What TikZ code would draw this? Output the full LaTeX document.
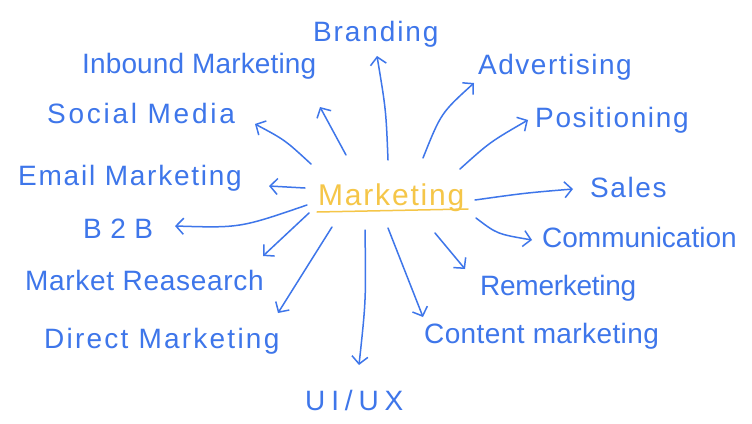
\documentclass[tikz,border=0pt]{standalone}
\usepackage{fontspec}
\setmainfont{Liberation Sans}
\usetikzlibrary{arrows.meta}
\definecolor{inkblue}{RGB}{62,118,234}
\definecolor{inkyellow}{RGB}{245,198,72}
\newcommand\lsp[2]{{\addfontfeature{LetterSpace=#1}#2}}
\begin{document}
\begin{tikzpicture}[x=1pt,y=-1pt,
  lbl/.style={text=inkblue, inner sep=0pt, anchor=base west, font=\fontsize{28}{30}\selectfont},
  arr/.style={draw=inkblue, line width=1.5pt, line cap=round, line join=round,
    -{Straight Barb[length=7.5pt,width=16pt]}}]
\useasboundingbox (0,0) rectangle (752,423);
\fill[white] (0,0) rectangle (752,423);

% labels
\node[lbl] (br) at (313,41)  {\lsp{6.7}{Branding}};
\node[lbl] (ib) at (82,73)   {\lsp{0.5}{Inbound Marketing}};
\node[lbl] (ad) at (478,74)  {\lsp{5.4}{Advertising}};
\node[lbl] (sm) at (47,123)  {\lsp{9.8}{Social Media}};
\node[lbl] (po) at (535,127) {\lsp{5.9}{Positioning}};
\node[lbl] (em) at (18,185)  {\lsp{6.3}{Email Marketing}};
\node[lbl] (sa) at (590,197) {\lsp{5.7}{Sales}};
\node[lbl] (bb) at (83,238)  {\lsp{2.5}{B 2 B}};
\node[lbl] (co) at (542,247) {\lsp{0}{Communication}};
\node[lbl] (mr) at (25,290)  {\lsp{2.5}{Market Reasearch}};
\node[lbl] (re) at (480,295) {\lsp{-1}{Remerketing}};
\node[lbl] (dm) at (44,348)  {\lsp{8}{Direct Marketing}};
\node[lbl] (cm) at (424,343) {\lsp{1.4}{Content marketing}};
\node[lbl] (ux) at (305,410) {\lsp{21}{UI/UX}};
\node[lbl, text=inkyellow, font=\fontsize{30}{32}\selectfont] (mk) at (318,205) {\lsp{6}{Marketing}};

% underline of the centre word
\coordinate (ulA) at (317,212);
\coordinate (ulB) at (468,209);
\draw[inkyellow, line width=1.5pt, line cap=round] (ulA) -- (ulB);

% arrow ends
\coordinate (s1) at (388,160);  \coordinate (t1) at (377,56);
\coordinate (s2) at (346,155);  \coordinate (t2) at (320,107);
\coordinate (s3) at (311,164);  \coordinate (t3) at (255,124);
\coordinate (s4) at (305,188);  \coordinate (t4) at (269,186);
\coordinate (s5) at (423,158);  \coordinate (t5) at (474,83);
\coordinate (s6) at (460,169);  \coordinate (t6) at (528,120);
\coordinate (s7) at (475,200);  \coordinate (t7) at (573,189);
\coordinate (s8) at (307,205);  \coordinate (t8) at (175,226);
\coordinate (s9) at (476,218);  \coordinate (t9) at (532,240);
\coordinate (s10) at (309,213); \coordinate (t10) at (263,256);
\coordinate (s11) at (435,233); \coordinate (t11) at (465,269);
\coordinate (s12) at (332,227); \coordinate (t12) at (278,313);
\coordinate (s13) at (365,230); \coordinate (t13) at (359,365);
\coordinate (s14) at (388,228); \coordinate (t14) at (423,317);

\draw[arr] (s1) .. controls (386,110) .. (t1);
\draw[arr] (s2) -- (t2);
\draw[arr] (s3) .. controls (285,140) .. (t3);
\draw[arr] (s4) -- (t4);
\draw[arr] (s5) .. controls (441,113) .. (t5);
\draw[arr] (s6) .. controls (490,142) .. (t6);
\draw[arr] (s7) .. controls (525,193) .. (t7);
\draw[arr] (s8) .. controls (240,228) .. (t8);
\draw[arr] (s9) .. controls (497,234) .. (t9);
\draw[arr] (s10) -- (t10);
\draw[arr] (s11) -- (t11);
\draw[arr] (s12) .. controls (310,262) .. (t12);
\draw[arr] (s13) .. controls (366,300) .. (t13);
\draw[arr] (s14) -- (t14);
\end{tikzpicture}
\end{document}
